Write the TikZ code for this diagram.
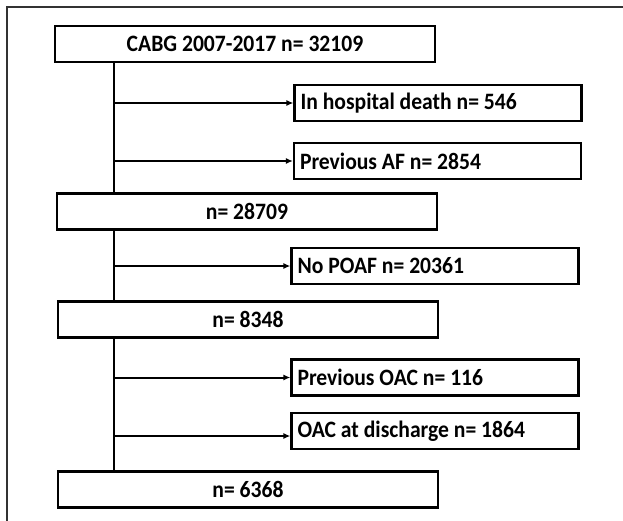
\documentclass[tikz,border=0pt]{standalone}
\usepackage{fontspec}
\setmainfont{Carlito}[FakeStretch=0.92]
\usepackage{tikz}
\usetikzlibrary{arrows.meta,positioning}

\begin{document}
\begin{tikzpicture}
[
x=1pt, y=-1pt,
main/.style={rectangle, draw=black, line width=2.2pt, minimum width=380pt, minimum height=36pt, inner sep=0, font=\bfseries\fontsize{23.5}{26}\selectfont},
side/.style={rectangle, draw=black, line width=2.2pt, minimum width=287pt, minimum height=36pt, inner sep=0, text width=275pt, align=flush left, font=\bfseries\fontsize{23.5}{26}\selectfont},
flow/.style={line width=2pt, -{Latex[length=7pt,width=6pt]}},
trunkline/.style={line width=2.4pt}
]
\useasboundingbox (0,0) rectangle (623,520);
\clip (0,0) rectangle (623,520);
\draw[black!80, line width=1.6pt] (7,7) rectangle (650,560);

%Nodes
\node[main]     (cabg)      at (245,44)      {CABG 2007-2017 n= 32109};
\node[side]     (death)     at (438,103)     {In hospital death n= 546};
\node[side]     (prevaf)    at (437.5,161)   {Previous AF n= 2854};
\node[main]     (nall)      at (247,211.5)   {n= 28709};
\node[side]     (nopoaf)    at (435,266)     {No POAF n= 20361};
\node[main]     (npoaf)     at (248,319.5)   {n= 8348};
\node[side]     (prevoac)   at (435,377.5)   {Previous OAC n= 116};
\node[side]     (oacdis)    at (435,431)     {OAC at discharge n= 1864};
\node[main]     (nfinal)    at (248,489.5)   {n= 6368};
\coordinate     (trunk)     at (114,0);

%Lines
\draw[trunkline] (cabg.south -| trunk) -- (nall.north -| trunk);
\draw[trunkline] (nall.south -| trunk) -- (npoaf.north -| trunk);
\draw[trunkline] (npoaf.south -| trunk) -- (nfinal.north -| trunk);

\draw[flow] (death.west -| trunk) -- (death.west);
\draw[flow] (prevaf.west -| trunk) -- (prevaf.west);
\draw[flow] (nopoaf.west -| trunk) -- (nopoaf.west);
\draw[flow] (prevoac.west -| trunk) -- (prevoac.west);
\draw[flow] ([yshift=-5pt]oacdis.west -| trunk) -- ([yshift=-5pt]oacdis.west);
\end{tikzpicture}
\end{document}
